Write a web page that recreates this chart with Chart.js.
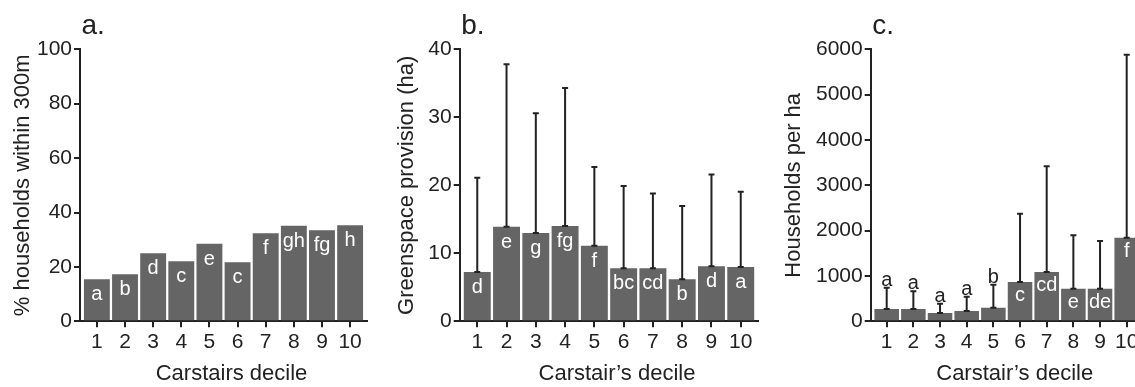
<!DOCTYPE html>
<html>
<head>
<meta charset="utf-8">
<script src="https://cdn.jsdelivr.net/npm/chart.js@4.4.1/dist/chart.umd.min.js"></script>
<style>
html,body{margin:0;padding:0;background:#fff;overflow:hidden}
#wrap{position:relative;width:1135px;height:387px;overflow:hidden}
canvas{position:absolute;top:0}
</style>
</head>
<body>
<div id="wrap">
  <canvas id="chA" width="380" height="387" style="left:0px"></canvas>
  <canvas id="chB" width="380" height="387" style="left:380px"></canvas>
  <canvas id="chC" width="400" height="387" style="left:755px"></canvas>
</div>
<script>
// data
const deciles = [1,2,3,4,5,6,7,8,9,10];

const pctWithin300m = [15.5,17.3,25.0,22.1,28.5,21.7,32.4,35.1,33.5,35.3];
const lettersA = ['a','b','d','c','e','c','f','gh','fg','h'];
const yTicksA = [0,20,40,60,80,100];

const greenspace = [7.25,13.9,13.0,14.0,11.1,7.8,7.8,6.2,8.1,8.0];
const greenspaceUpper = [21.1,37.8,30.6,34.3,22.7,19.9,18.8,16.95,21.6,19.05];
const lettersB = ['d','e','g','fg','f','bc','cd','b','d','a'];
const yTicksB = [0,10,20,30,40];

const households = [271,271,183,227,300,867,1088,720,720,1845];
const householdsUpper = [742,662,389,543,808,2374,3419,1897,1772,5882];
const lettersC = ['a','a','a','a','b','c','cd','e','de','f'];
const yTicksC = [0,1000,2000,3000,4000,5000,6000];

const FONT = '"Liberation Sans", Arial, Helvetica, sans-serif';
const INK = '#222';
const BAR = '#656565';

// error bars, letters, panel tag and x title
function makeAnnot(o){
  return {
    id:'annot',
    afterDatasetsDraw(chart){
      const {ctx, chartArea:ca, scales:{x, y}} = chart;
      ctx.save();
      if (o.upper) {
        ctx.strokeStyle = INK; ctx.lineWidth = 2;
        o.upper.forEach((u,i)=>{
          const px = x.getPixelForValue(deciles[i]);
          const y0 = y.getPixelForValue(o.vals[i]), y1 = y.getPixelForValue(u);
          ctx.beginPath();
          ctx.moveTo(px,y0); ctx.lineTo(px,y1);
          ctx.moveTo(px-3,y0); ctx.lineTo(px+3,y0);
          ctx.moveTo(px-3,y1); ctx.lineTo(px+3,y1);
          ctx.stroke();
        });
      }
      ctx.font = '20px ' + FONT; ctx.textAlign = 'center'; ctx.textBaseline = 'alphabetic';
      o.letters.forEach((t,i)=>{
        const px = x.getPixelForValue(deciles[i]);
        const top = y.getPixelForValue(o.vals[i]);
        if (y.bottom - top < 25 && o.upper) {
          ctx.fillStyle = INK; ctx.fillText(t, px, y.getPixelForValue(o.upper[i]) - 2);
        } else {
          ctx.fillStyle = '#fff'; ctx.fillText(t, px, top + o.inset);
        }
      });
      ctx.fillStyle = INK; ctx.textAlign = 'left';
      ctx.font = '28px ' + FONT; ctx.fillText(o.tag, ca.left + 1.5, 33.5);
      ctx.textAlign = 'center'; ctx.textBaseline = 'middle'; ctx.font = '22px ' + FONT;
      ctx.fillText(o.xTitle, (ca.left + ca.right)/2 + 8, 374);
      ctx.restore();
    }
  };
}

function panel(id, o){
  const axisGrid = {display:true, offset:false, drawOnChartArea:false, drawTicks:true, tickLength:6, color:INK, lineWidth:2};
  const axisBorder = {display:true, color:INK, width:2};
  return new Chart(document.getElementById(id), {
    type:'bar',
    data:{ datasets:[{
      data: deciles.map((d,i)=>({x:d, y:o.vals[i]})),
      backgroundColor: BAR, borderWidth:0, categoryPercentage:1, barPercentage:0.92
    }]},
    options:{
      responsive:false, animation:false, events:[],
      layout:{padding:{top:49.3, right:o.padRight, bottom:0, left:0}},
      plugins:{legend:{display:false}, tooltip:{enabled:false}},
      scales:{
        x:{
          type:'linear', min:0.4, max:10.6, offset:false, z:1,
          afterBuildTicks: s => { s.ticks = deciles.map(v=>({value:v})); },
          afterFit: s => { s.height = 65.7; },
          grid: axisGrid, border: axisBorder,
          ticks:{color:INK, font:{family:FONT, size:21}, padding:2, maxRotation:0, autoSkip:false, callback:v=>String(v)}
        },
        y:{
          min:o.yTicks[0], max:o.yTicks[o.yTicks.length-1], z:1,
          afterBuildTicks: s => { s.ticks = o.yTicks.map(v=>({value:v})); },
          afterFit: s => { s.width = o.yWidth; },
          grid: axisGrid, border: axisBorder,
          ticks:{color:INK, font:{family:FONT, size:21}, padding:2, callback:v=>String(v)},
          title:{display:true, text:o.yTitle, color:INK, font:{family:FONT, size:22, lineHeight:1}, padding:{top:o.yTitlePad, bottom:0}}
        }
      }
    },
    plugins:[makeAnnot(o)]
  });
}

panel('chA', {vals:pctWithin300m, letters:lettersA, yTicks:yTicksA, tag:'a.',
  yTitle:'% households within 300m', xTitle:'Carstairs decile',
  yWidth:80, padRight:13, yTitlePad:12, inset:21});
panel('chB', {vals:greenspace, upper:greenspaceUpper, letters:lettersB, yTicks:yTicksB, tag:'b.',
  yTitle:'Greenspace provision (ha)', xTitle:'Carstair\u2019s decile',
  yWidth:79.7, padRight:1.7, yTitlePad:16, inset:21});
panel('chC', {vals:households, upper:householdsUpper, letters:lettersC, yTicks:yTicksC, tag:'c.',
  yTitle:'Households per ha', xTitle:'Carstair\u2019s decile',
  yWidth:115.7, padRight:12.3, yTitlePad:28, inset:19});
</script>
</body>
</html>
